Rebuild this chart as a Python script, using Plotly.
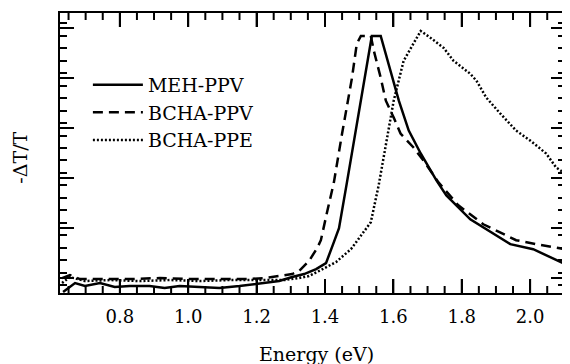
import plotly.graph_objects as go

# ---- data ----
meh_x = [0.634, 0.669, 0.698, 0.742, 0.785, 0.829, 0.887, 0.931, 0.975, 1.033, 1.091, 1.150,
         1.193, 1.222, 1.266, 1.304, 1.339, 1.374, 1.403, 1.426, 1.441, 1.464, 1.485, 1.505,
         1.522, 1.537, 1.563, 1.601, 1.616, 1.645, 1.680, 1.726, 1.755, 1.825, 1.884, 1.942,
         2.009, 2.058, 2.087, 2.102]
meh_y = [-0.028, 0.008, -0.004, 0.008, -0.008, -0.004, -0.004, -0.012, -0.004, -0.008, -0.012, -0.004,
         0.004, 0.008, 0.016, 0.032, 0.044, 0.064, 0.088, 0.172, 0.228, 0.41, 0.58, 0.74,
         0.88, 1.0, 1.0, 0.82, 0.74, 0.62, 0.528, 0.42, 0.36, 0.264, 0.212, 0.164,
         0.144, 0.112, 0.092, 0.084]

bppv_x = [0.631, 0.654, 0.683, 0.742, 0.829, 0.917, 1.004, 1.091, 1.179, 1.222, 1.266, 1.304,
          1.324, 1.339, 1.353, 1.377, 1.388, 1.406, 1.426, 1.450, 1.470, 1.479, 1.493, 1.505,
          1.534, 1.543, 1.563, 1.578, 1.601, 1.621, 1.659, 1.688, 1.732, 1.790, 1.863, 1.959,
          2.018, 2.067, 2.102]
bppv_y = [0.028, 0.04, 0.024, 0.024, 0.024, 0.028, 0.024, 0.024, 0.024, 0.028, 0.036, 0.044,
          0.056, 0.076, 0.096, 0.148, 0.18, 0.292, 0.412, 0.608, 0.752, 0.832, 0.968, 1.0,
          1.0, 0.94, 0.832, 0.74, 0.672, 0.608, 0.552, 0.50, 0.412, 0.32, 0.244, 0.18,
          0.164, 0.152, 0.144]

bppe_x = [0.631, 0.654, 0.698, 0.771, 0.858, 0.946, 1.033, 1.120, 1.208, 1.281, 1.324, 1.353,
          1.388, 1.432, 1.476, 1.514, 1.534, 1.557, 1.578, 1.601, 1.630, 1.659, 1.680, 1.709,
          1.747, 1.776, 1.825, 1.843, 1.872, 1.913, 1.959, 2.000, 2.047, 2.076, 2.102]
bppe_y = [0.008, 0.032, 0.016, 0.02, 0.016, 0.02, 0.016, 0.02, 0.02, 0.02, 0.028, 0.036,
          0.06, 0.092, 0.144, 0.212, 0.252, 0.40, 0.568, 0.74, 0.90, 0.968, 1.02, 0.992,
          0.952, 0.90, 0.848, 0.82, 0.752, 0.688, 0.62, 0.58, 0.528, 0.472, 0.448]

names = ["MEH-PPV", "BCHA-PPV", "BCHA-PPE"]
x_title = "Energy (eV)"
y_title = "-ΔT/T"

# energy-axis tick values (major labelled every 0.2, minor every 0.05)
x_major_ticks = [0.8, 1.0, 1.2, 1.4, 1.6, 1.8, 2.0]
x_minor_ticks = [0.65, 0.70, 0.75, 0.85, 0.90, 0.95, 1.05, 1.10, 1.15, 1.25, 1.30, 1.35,
                 1.45, 1.50, 1.55, 1.65, 1.70, 1.75, 1.85, 1.90, 1.95, 2.05, 2.10]

FONT = "DejaVu Serif"
X_RANGE = [0.625, 2.102]

# the page body adds an 8px margin; the figure is sized / placed to compensate
W, H = 562, 356
L, R, T, B = 52, 3, 4, 71
PW, PH = W - L - R, H - T - B

fig = go.Figure()
fig.add_trace(go.Scatter(x=meh_x, y=meh_y, mode="lines", name=names[0],
                         line=dict(color="black", width=2.5)))
fig.add_trace(go.Scatter(x=bppv_x, y=bppv_y, mode="lines", name=names[1],
                         line=dict(color="black", width=2.5, dash="10px,6px")))
fig.add_trace(go.Scatter(x=bppe_x, y=bppe_y, mode="lines", name=names[2],
                         line=dict(color="black", width=2.5, dash="2px,2px")))

fig.update_xaxes(range=X_RANGE, tickmode="array", tickvals=x_major_ticks,
                 ticktext=[f"{v:.1f}" for v in x_major_ticks],
                 showgrid=False, zeroline=False, showline=True, linecolor="black",
                 linewidth=2, mirror="ticks", ticks="inside", ticklen=14, tickwidth=2,
                 tickcolor="black", ticklabelstandoff=6,
                 tickfont=dict(family=FONT, size=18, color="black"))
fig.update_yaxes(range=[-0.032, 1.092], tickmode="linear", tick0=0.03, dtick=0.2,
                 showticklabels=False, showgrid=False, zeroline=False, showline=True,
                 linecolor="black", linewidth=2, mirror="ticks", ticks="inside",
                 ticklen=14, tickwidth=2, tickcolor="black",
                 minor=dict(dtick=0.05, ticks="inside", ticklen=7, tickwidth=2,
                            tickcolor="black", showgrid=False))

# energy-axis tick marks on the bottom and top edges, placed on the x scale
for vals, ln in ((x_major_ticks, 14), (x_minor_ticks, 7)):
    for v in vals:
        fig.add_shape(type="line", xref="x", yref="paper", x0=v, x1=v,
                      ysizemode="pixel", yanchor=0, y0=0, y1=ln,
                      line=dict(color="black", width=2), layer="above")
        fig.add_shape(type="line", xref="x", yref="paper", x0=v, x1=v,
                      ysizemode="pixel", yanchor=1, y0=0, y1=-ln,
                      line=dict(color="black", width=2), layer="above")

fig.add_annotation(text=x_title, xref="paper", yref="paper", x=(310 - L) / PW,
                   y=(H - B - 346) / PH, showarrow=False, xanchor="center", yanchor="middle",
                   font=dict(family=FONT, size=19, color="black"))
fig.add_annotation(text=y_title, xref="paper", yref="paper", x=(12 - L) / PW,
                   y=(H - B - 149) / PH, showarrow=False, xanchor="center", yanchor="middle",
                   textangle=-90, font=dict(family=FONT, size=19, color="black"))

fig.update_layout(
    width=W, height=H,
    margin=dict(l=L, r=R, t=T, b=B),
    paper_bgcolor="white", plot_bgcolor="white",
    showlegend=True,
    legend=dict(x=(80 - L) / PW, y=(H - B - 57) / PH, xanchor="left", yanchor="top",
                bgcolor="rgba(0,0,0,0)", borderwidth=0, tracegroupgap=0,
                font=dict(family=FONT, size=19, color="black"), itemwidth=50),
)

fig.write_html("out.html")
